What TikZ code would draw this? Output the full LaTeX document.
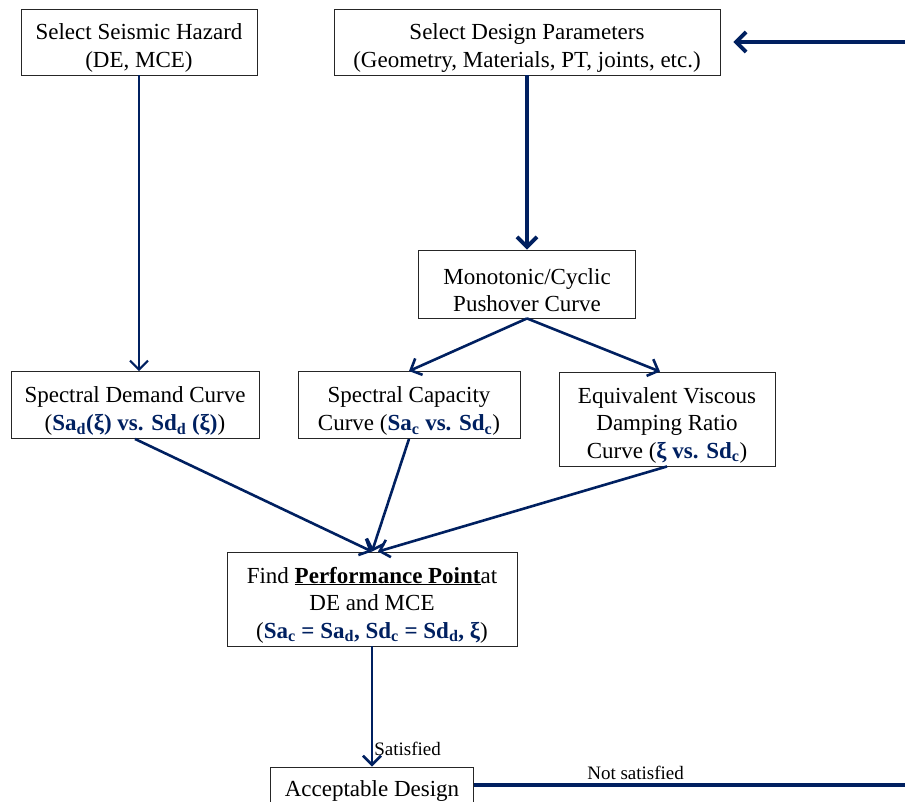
\documentclass[tikz,border=0pt]{standalone}
\usepackage{fontspec}
\setmainfont{Liberation Serif}
\usetikzlibrary{arrows.meta}

\definecolor{navy}{RGB}{0,32,96}
\newcommand{\hl}[1]{\textcolor{navy}{\textbf{#1}}}
\newcommand{\lo}[1]{\textsubscript{#1}}
\newcommand{\st}{\rule{0pt}{28pt}}

\begin{document}
\begin{tikzpicture}[x=1pt,y=-1pt]

\tikzstyle box=[draw=black!85, line width=0.9pt, align=center, inner sep=2pt, font=\fontsize{23}{27.5}\selectfont]
\tikzstyle flow=[navy, line width=2.6pt, -{Straight Barb[length=9pt,width=18pt]}]
\tikzstyle bold flow=[navy, line width=3.8pt, -{Straight Barb[length=10pt,width=20pt]}]
\tikzstyle note=[text=black, font=\fontsize{19}{21}\selectfont, inner sep=1pt]

\useasboundingbox (0,0) rectangle (905,802);
\clip (0,0) rectangle (905,802);

\node (haz) [box, minimum width=236pt, minimum height=66pt] at (139,42) {\st Select Seismic Hazard\\(DE, MCE)};
\node (par) [box, minimum width=386pt, minimum height=66pt] at (527,42) {\st Select Design Parameters\\(Geometry, Materials, PT, joints, etc.)};
\node (mono) [box, minimum width=217pt, minimum height=68pt] at (527,284) {\st Monotonic/Cyclic\\Pushover Curve};

\node (dem) [box, minimum width=248pt, minimum height=67pt] at (135,405) {\st Spectral Demand Curve\\(\hl{Sa\lo{d}(ξ) vs. Sd\lo{d} (ξ)})};
\node (cap) [box, minimum width=222pt, minimum height=67pt] at (409,405) {\st Spectral Capacity\\Curve (\hl{Sa\lo{c} vs. Sd\lo{c}})};
\node (eqv) [box, minimum width=216pt, minimum height=94pt] at (667,419) {\st Equivalent Viscous\\Damping Ratio\\Curve (\hl{ξ vs. Sd\lo{c}})};

\node (pp) [box, minimum width=290pt, minimum height=94pt] at (372,599) {\st Find \underline{\textbf{Performance Point}}at\\DE and MCE\\(\hl{Sa\lo{c} = Sa\lo{d}, Sd\lo{c} = Sd\lo{d}, ξ})};
\node (acc) [box, minimum width=203pt, minimum height=48pt] at (372,791) {Acceptable Design};

\coordinate (r1) at (905,42);
\coordinate (r2) at (905,785);

\draw [flow, line width=2pt] (haz.south) -- (haz.south |- dem.north);
\draw [bold flow] (par.south) -- (mono.north);
\draw [flow] (mono.south) -- (cap.north);
\draw [flow] (mono.south) -- ([xshift=-7pt]eqv.north);

\draw [flow] (dem.south) -- (pp.north);
\draw [flow] (cap.south) -- (pp.north);
\draw [flow] (eqv.south) -- ([xshift=6pt]pp.north);

\draw [flow] (pp.south) -- node [note, anchor=west, pos=0.85] {Satisfied} (acc.north);
\draw [navy, line width=3.8pt] (acc.east |- r2) -- node [note, above=2pt, pos=0.375] {Not satisfied} (r2);
\draw [bold flow, shorten >=13pt] (r1) -- (par.east |- r1);

\end{tikzpicture}
\end{document}
